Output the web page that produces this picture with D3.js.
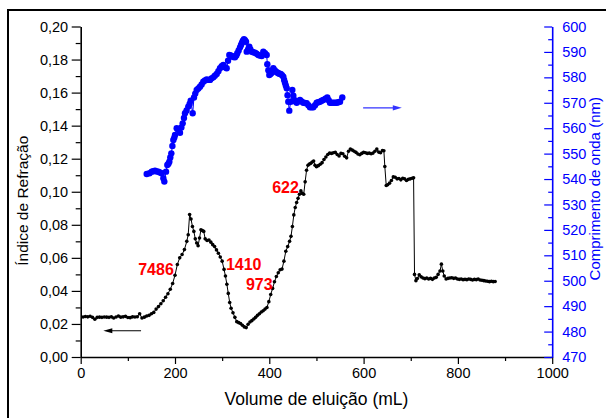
<!DOCTYPE html>
<html><head><meta charset="utf-8">
<script src="https://cdn.jsdelivr.net/npm/d3@7"></script>
<style>
html,body{margin:0;padding:0;background:#fff;}
svg{display:block;font-family:"Liberation Sans",Arial,sans-serif;}
</style></head>
<body><svg id="chart" width="606" height="418"></svg>
<script>
// ---- data ----
const riVolume = [5,10,15,20,25,30,35,40,45,50,55,60,65,70,75,80,85,90,95,100,105,110,115,120,125,130,135,140,145,150,155,160,165,170,175,180,185,190,195,200,205,210,215,220,225,228,231,234,237,240,243,246,249,252,255,258,261,264,268,272,276,280,284,288,292,296,300,304,307,310,313,316,319,323,327,331,335,339,343,347,351,355,359,363,367,371,375,379,383,387,391,395,399,403,407,411,415,419,423,427,431,435,439,443,446,449,452,455,458,461,464,467,470,473,476,479,482,485,488,491,494,497,500,504,508,512,516,520,524,528,532,536,540,544,548,552,556,560,564,568,572,576,580,584,588,592,596,600,604,608,612,616,620,624,628,632,636,640,643,645,648,651,655,659,663,667,671,675,679,683,687,691,695,699,703,706,708,711,714,718,722,726,730,734,738,742,746,750,754,758,762,765,768,771,775,779,783,787,791,795,799,803,807,811,815,819,823,827,831,835,839,843,847,851,855,859,863,867,871,875,879];
const riValue = [0.0242,0.0245,0.0243,0.0247,0.0240,0.0228,0.0240,0.0241,0.0240,0.0242,0.0241,0.0240,0.0243,0.0236,0.0242,0.0248,0.0241,0.0243,0.0246,0.0239,0.0238,0.0243,0.0242,0.0244,0.0262,0.0236,0.0241,0.0248,0.0252,0.0262,0.0270,0.0290,0.0305,0.0322,0.0340,0.0362,0.0383,0.0410,0.0445,0.0495,0.0560,0.0600,0.0620,0.0650,0.0700,0.0740,0.0862,0.0835,0.0790,0.0760,0.0715,0.0690,0.0673,0.0720,0.0770,0.0765,0.0760,0.0715,0.0705,0.0708,0.0695,0.0680,0.0668,0.0648,0.0628,0.0605,0.0580,0.0530,0.0490,0.0440,0.0385,0.0330,0.0295,0.0268,0.0240,0.0214,0.0208,0.0203,0.0192,0.0182,0.0178,0.0198,0.0212,0.0220,0.0230,0.0240,0.0252,0.0262,0.0272,0.0280,0.0290,0.0300,0.0335,0.0378,0.0415,0.0455,0.0487,0.0510,0.0528,0.0532,0.0580,0.0640,0.0668,0.0700,0.0730,0.0790,0.0860,0.0905,0.0935,0.0960,0.0985,0.1005,0.0990,0.0985,0.1060,0.1130,0.1160,0.1168,0.1172,0.1180,0.1186,0.1160,0.1152,0.1158,0.1166,0.1176,0.1195,0.1210,0.1225,0.1234,0.1232,0.1236,0.1238,0.1225,0.1216,0.1232,0.1230,0.1215,0.1205,0.1245,0.1258,0.1252,0.1245,0.1238,0.1228,0.1224,0.1232,0.1238,0.1236,0.1232,0.1234,0.1230,0.1234,0.1245,0.1258,0.1240,0.1236,0.1250,0.1248,0.1153,0.1038,0.1042,0.1052,0.1068,0.1090,0.1088,0.1078,0.1080,0.1072,0.1082,0.1078,0.1068,0.1075,0.1078,0.1082,0.1084,0.0500,0.0462,0.0475,0.0497,0.0485,0.0478,0.0474,0.0478,0.0472,0.0476,0.0470,0.0478,0.0482,0.0500,0.0520,0.0562,0.0520,0.0490,0.0472,0.0476,0.0478,0.0480,0.0476,0.0478,0.0472,0.0470,0.0472,0.0468,0.0470,0.0468,0.0472,0.0470,0.0466,0.0470,0.0468,0.0472,0.0466,0.0464,0.0462,0.0460,0.0458,0.0456,0.0458,0.0456,0.0457];

const wlVolume = [140,146,150.6,154,157.6,161,164.6,168,171.8,175.3,177.4,181,183.7,186,188,190,192.2,194.5,196.5,198.5,200,203.6,207,210.6,213.5,216.3,219,221.2,224.5,228.2,231,233.3,237.5,240.3,243,246,249.5,253,256.5,260,263.5,267.2,270.5,274.2,277.5,281.2,284.5,288.4,292,295.4,299,302.4,306,309.6,312.5,315.2,318,320.2,323.5,327.2,330,332.1,335,337.9,340,342.1,344,346.3,348.5,350.6,352.1,355,357.6,360,362.7,366,369.7,373,376.7,380,383.9,387.3,390.9,394.5,395.8,398,400,402.5,405.1,408.5,411.5,414.2,417,419,421.5,424.2,427,429.7,431.5,433.3,435,437,438.7,440.3,442.4,445.4,448.8,451,453,455.5,458.1,461.5,465.1,468.5,472.1,475.7,479.3,483,486.3,490,493.3,497,500.5,504,507.5,511,514.5,519,523,526,528.7,532,535.7,539.5,543,546.5,550,554.8];
const wlValue = [542.0,542.3,542.9,543.1,543.3,543.0,542.9,542.6,542.3,540.3,539.0,542.9,545.5,546.0,546.8,548.5,550.1,553.0,555.4,556.3,557.3,560.0,559.5,558.2,560.3,561.9,564.0,565.9,567.0,568.5,569.5,570.8,565.9,572.1,573.6,575.0,575.6,576.3,577.2,578.3,578.8,579.2,579.0,579.0,579.6,580.0,580.6,581.3,582.4,583.6,584.4,584.9,584.0,583.6,586.5,588.8,588.6,588.4,588.0,587.9,588.6,589.5,590.6,591.8,592.7,593.6,594.4,595.0,594.6,594.0,590.1,591.0,592.1,591.0,590.1,589.9,589.7,589.3,588.8,588.6,588.4,590.1,589.5,588.8,585.2,582.8,580.9,581.3,581.8,583.6,582.8,582.2,581.9,581.6,581.4,581.3,580.8,580.3,579.0,577.9,576.8,575.7,573.0,570.4,566.9,570.4,575.0,572.8,571.1,570.5,570.0,570.6,571.1,570.5,570.0,569.9,569.8,569.0,568.2,568.2,568.2,569.0,570.0,570.2,570.4,570.8,571.1,571.6,572.1,571.0,570.0,570.0,570.0,570.0,570.0,570.2,570.4,572.1];

const xTicks = [0,200,400,600,800,1000];
const xMinor = [100,300,500,700,900];
const yLeftTicks = [0,0.02,0.04,0.06,0.08,0.10,0.12,0.14,0.16,0.18,0.20];
const yLeftMinor = [0.01,0.03,0.05,0.07,0.09,0.11,0.13,0.15,0.17,0.19];
const yRightTicks = [470,480,490,500,510,520,530,540,550,560,570,580,590,600];
const yRightMinor = [475,485,495,505,515,525,535,545,555,565,575,585,595];

const peakLabels = [
  {text:"7486", x:122, y:0.0496},
  {text:"1410", x:308, y:0.0527},
  {text:"973",  x:350.5, y:0.0405},
  {text:"622",  x:406, y:0.0990}
];
const leftArrow = {x0:128, x1:48, y:0.0159};
const rightArrow = {x0:599, x1:681, y:568.0};

// ---- drawing ----
const svg = d3.select("#chart");
const x = d3.scaleLinear().domain([0,1000]).range([80.7,552.2]);
const yL = d3.scaleLinear().domain([0,0.2]).range([357,26.5]);
const yR = d3.scaleLinear().domain([470,600]).range([357,26.5]);
const comma = d => d3.format(".2f")(d).replace(".", ",");

// outer frame
svg.append("rect").attr("x",8).attr("y",10).attr("width",700).attr("height",500)
  .attr("fill","none").attr("stroke","#000").attr("stroke-width",2);

// left axis
const gL = svg.append("g").attr("transform",`translate(${x(0)},0)`);
gL.call(d3.axisLeft(yL).tickValues(yLeftTicks).tickFormat(comma).tickSize(9).tickSizeOuter(0).tickPadding(3.5));
gL.append("g").call(d3.axisLeft(yL).tickValues(yLeftMinor).tickFormat("").tickSize(5).tickSizeOuter(0))
  .select(".domain").remove();
// bottom axis
const gB = svg.append("g").attr("transform",`translate(0,${yL(0)})`);
gB.call(d3.axisBottom(x).tickValues(xTicks).tickFormat(d3.format("d")).tickSize(7).tickSizeOuter(0).tickPadding(4));
gB.append("g").call(d3.axisBottom(x).tickValues(xMinor).tickFormat("").tickSize(4).tickSizeOuter(0))
  .select(".domain").remove();
// right axis (blue, inward ticks)
const gR = svg.append("g").attr("transform",`translate(${x(1000)},0)`);
gR.call(d3.axisRight(yR).tickValues(yRightTicks).tickFormat(d3.format("d")).tickSize(-8).tickSizeOuter(0).tickPadding(10));
gR.append("g").call(d3.axisRight(yR).tickValues(yRightMinor).tickFormat("").tickSize(-4).tickSizeOuter(0))
  .select(".domain").remove();

[gL,gB,gR].forEach(g=>{
  g.selectAll("text").attr("font-size","14.5px").attr("font-family","'Liberation Sans',Arial,sans-serif");
  g.selectAll(".domain").attr("stroke-width",1.6);
  g.selectAll(".tick line").attr("stroke-width",1.2);
});
gL.selectAll("path,line").attr("stroke","#000"); gL.selectAll("text").attr("fill","#000");
gB.selectAll("path,line").attr("stroke","#000"); gB.selectAll("text").attr("fill","#000");
gR.selectAll("path,line").attr("stroke","#0000ff"); gR.selectAll("text").attr("fill","#0000ff");

// axis titles
svg.append("text").attr("x",(x(0)+x(1000))/2).attr("y",405).attr("text-anchor","middle")
  .attr("font-size","17.5px").attr("fill","#000").text("Volume de eluição (mL)");
svg.append("text").attr("transform",`translate(28,${(yL(0)+yL(0.2))/2+9}) rotate(-90)`).attr("text-anchor","middle")
  .attr("font-size","15.5px").attr("fill","#000").text("Índice de Refração");
svg.append("text").attr("transform",`translate(600,${(yR(470)+yR(600))/2-3}) rotate(-90)`).attr("text-anchor","middle")
  .attr("font-size","15px").attr("fill","#0000ff").text("Comprimento de onda (nm)");

// black series
const riData = riVolume.map((v,i)=>({x:v,y:riValue[i]}));
svg.append("path").datum(riData).attr("fill","none").attr("stroke","#000").attr("stroke-width",1)
  .attr("d", d3.line().x(d=>x(d.x)).y(d=>yL(d.y)));
svg.append("g").selectAll("circle").data(riData).join("circle")
  .attr("cx",d=>x(d.x)).attr("cy",d=>yL(d.y)).attr("r",1.8).attr("fill","#000");

// blue series
const wlData = wlVolume.map((v,i)=>({x:v,y:wlValue[i]}));
svg.append("path").datum(wlData).attr("fill","none").attr("stroke","#0000ff").attr("stroke-width",1)
  .attr("d", d3.line().x(d=>x(d.x)).y(d=>yR(d.y)));
svg.append("g").selectAll("circle").data(wlData).join("circle")
  .attr("cx",d=>x(d.x)).attr("cy",d=>yR(d.y)).attr("r",3.2).attr("fill","#0000ff");

// arrows
function arrow(x0,x1,yy,color){
  const dir = Math.sign(x1-x0);
  svg.append("line").attr("x1",x0).attr("x2",x1-dir*6).attr("y1",yy).attr("y2",yy)
    .attr("stroke",color).attr("stroke-width",1.2);
  svg.append("path").attr("d",`M${x1},${yy} L${x1-dir*9},${yy-2.6} L${x1-dir*9},${yy+2.6} Z`).attr("fill",color);
}
arrow(x(leftArrow.x0), x(leftArrow.x1), yL(leftArrow.y), "#000");
arrow(x(rightArrow.x0), x(rightArrow.x1), yR(rightArrow.y), "#3333ff");

// peak labels
svg.append("g").selectAll("text").data(peakLabels).join("text")
  .attr("x",d=>x(d.x)).attr("y",d=>yL(d.y)).attr("font-size","16px").attr("font-weight","bold")
  .attr("fill","#ff0000").text(d=>d.text);
</script></body></html>
